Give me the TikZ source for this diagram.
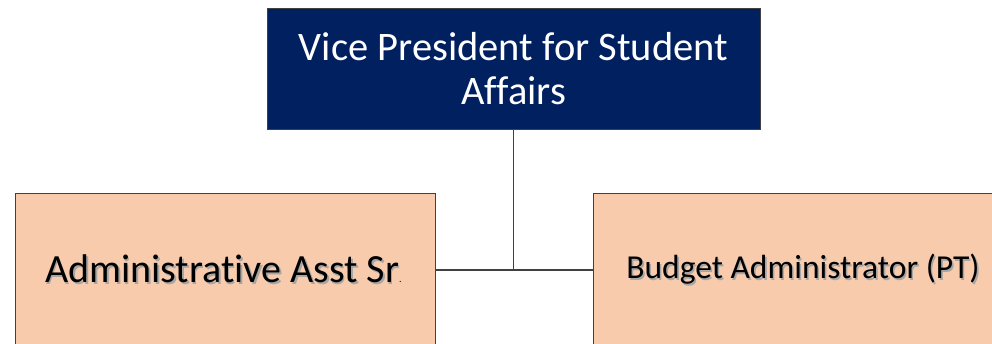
\documentclass[tikz,border=0pt]{standalone}
\usepackage{fontspec}
\setmainfont[Ligatures={NoCommon}]{Carlito}
\definecolor{navy}{HTML}{002060}
\definecolor{peach}{HTML}{F8CBAD}
\definecolor{edge}{HTML}{404040}
\newcommand\shadowtext[2]{\makebox[0pt][l]{\hspace{1.6pt}\raisebox{-1.6pt}{\color{#1}#2}}#2}
\begin{document}
\begin{tikzpicture}[x=1pt,y=-1pt,
  box/.style={draw=edge, line width=1pt, inner sep=0pt, align=center},
  topbox/.style={box, fill=navy, text=white, minimum width=493pt, minimum height=121pt,
    font=\fontsize{40.5}{44}\selectfont},
  subbox/.style={box, fill=peach, text=black, minimum width=420pt, minimum height=154pt},
  link/.style={draw=edge, line width=1.2pt}]
\useasboundingbox (0,0) rectangle (992,343);
\clip (0,0) rectangle (992,343);
\node[topbox] (vp) at (513.5,68.5) {Vice President for Student\\Affairs};
\node[subbox, font=\fontsize{40}{44}\selectfont] (aa) at (225,270)
  {\hspace*{-3pt}\shadowtext{black!35}{Administrative Asst Sr}{\fontsize{10}{10}\selectfont.}};
\node[subbox, font=\fontsize{33.5}{40}\selectfont] (ba) at (803,270)
  {\shadowtext{black!35}{Budget Administrator (PT)}};
\coordinate (j) at (vp.south |- aa.east);
\draw[link] (vp.south) -- (j);
\draw[link] (aa.east) -- (ba.west);
\end{tikzpicture}
\end{document}
